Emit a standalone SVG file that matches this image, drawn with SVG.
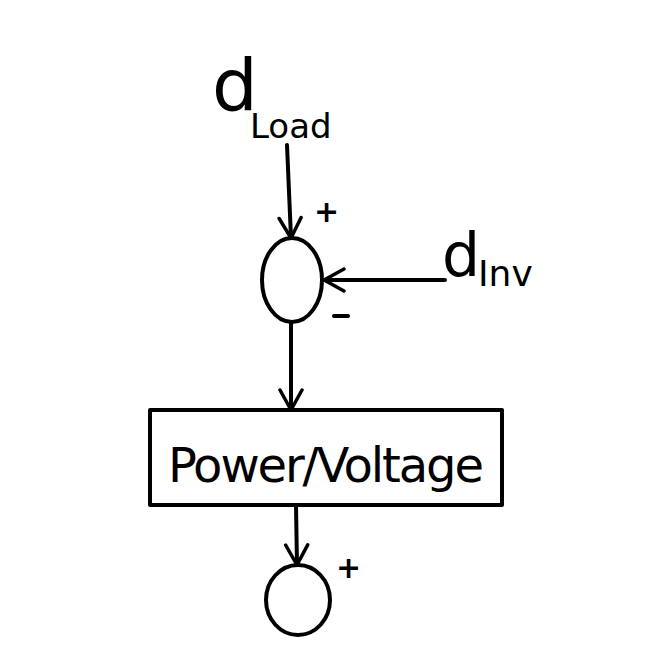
<svg xmlns="http://www.w3.org/2000/svg" width="659" height="653" viewBox="0 0 659 653">
<defs>
<style>
.ln{fill:none;stroke:#000;stroke-width:4;stroke-linecap:round;stroke-linejoin:round}
.t{font-family:"DejaVu Sans","Liberation Sans",sans-serif;fill:#000}
</style>
<marker id="ah" viewBox="0 0 26 26" refX="24" refY="13" markerWidth="26" markerHeight="26" markerUnits="userSpaceOnUse" orient="auto">
<polyline points="4,2 24,13 4,24" fill="none" stroke="#000" stroke-width="3.5" stroke-linecap="round" stroke-linejoin="round"/>
</marker>
</defs>
<rect width="659" height="653" fill="#fff"/>
<g id="label-dload">
<text class="t" x="212" y="110" font-size="72">d</text>
<text class="t" x="250" y="138" font-size="34">Load</text>
</g>
<g id="label-dinv">
<text class="t" x="442" y="276" font-size="60">d</text>
<text class="t" x="478" y="286" font-size="36">Inv</text>
</g>
<g id="sum1">
<ellipse class="ln" cx="292" cy="280" rx="30" ry="42"/>
<text class="t" x="314" y="222" font-size="30" font-weight="bold">+</text>
<line class="ln" x1="334" y1="316" x2="348" y2="316"/>
</g>
<g id="block">
<rect class="ln" x="150" y="410" width="352" height="95"/>
<text class="t" x="326" y="482" font-size="48" text-anchor="middle" textLength="316">Power/Voltage</text>
</g>
<g id="sum2">
<ellipse class="ln" cx="298" cy="600" rx="32" ry="35"/>
<text class="t" x="336" y="578" font-size="30" font-weight="bold">+</text>
</g>
<g id="connectors">
<line class="ln" x1="287" y1="145" x2="291" y2="238" marker-end="url(#ah)"/>
<line class="ln" x1="445" y1="280" x2="324" y2="280" marker-end="url(#ah)"/>
<line class="ln" x1="291" y1="322" x2="291" y2="410" marker-end="url(#ah)"/>
<line class="ln" x1="296" y1="505" x2="297" y2="565" marker-end="url(#ah)"/>
</g>
</svg>
